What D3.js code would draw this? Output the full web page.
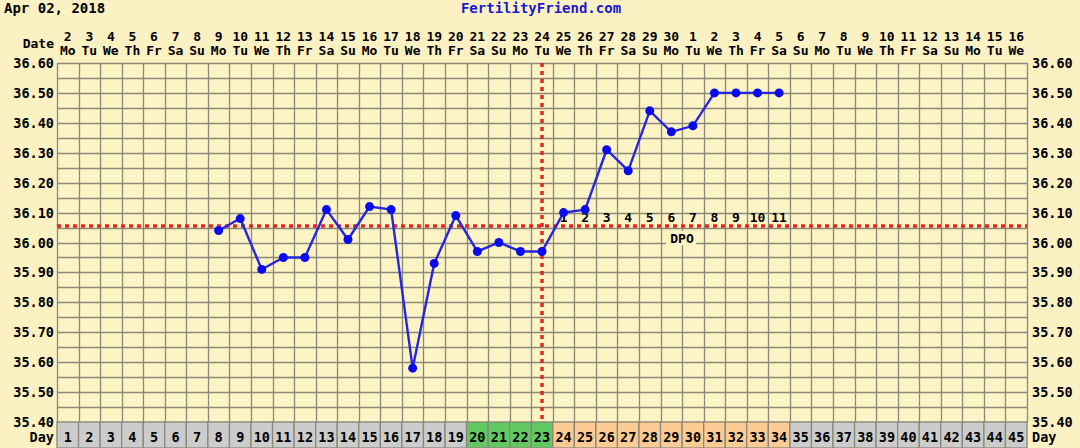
<!DOCTYPE html>
<html>
<head>
<meta charset="utf-8">
<script src="https://cdn.jsdelivr.net/npm/d3@7"></script>
<style>
  body { margin: 0; background: #fbf1c3; }
  text { font-family: "DejaVu Sans Mono", monospace; font-weight: bold; fill: #000; }
</style>
</head>
<body>
<div id="chart"></div>
<script>
// chart data
const dates = [2,3,4,5,6,7,8,9,10,11,12,13,14,15,16,17,18,19,20,21,22,23,24,25,26,27,28,29,30,
               1,2,3,4,5,6,7,8,9,10,11,12,13,14,15,16];
const weekdays = ["Mo","Tu","We","Th","Fr","Sa","Su"];
const cycleDays = d3.range(1, 46);
const tempDays = [8,9,10,11,12,13,14,15,16,17,18,19,20,21,22,23,24,25,26,27,28,29,30,31,32,33,34];
const temps = [36.04,36.08,35.91,35.95,35.95,36.11,36.01,36.12,36.11,35.58,35.93,36.09,35.97,36.00,35.97,35.97,
               36.10,36.11,36.31,36.24,36.44,36.37,36.39,36.50,36.50,36.50,36.50];
const yTicks = [36.60,36.50,36.40,36.30,36.20,36.10,36.00,35.90,35.80,35.70,35.60,35.50,35.40];
const fertileDays = [20,21,22,23];
const lutealDays = [24,25,26,27,28,29,30,31,32,33,34];
const coverline = 36.055;
const ovulationDay = 23;

const W = 1080, H = 448;
const margin = { left: 57, right: 1027, top: 63, bottom: 422 };

const svg = d3.select("#chart").append("svg")
    .attr("width", W)
    .attr("height", H);

svg.append("rect").attr("width", W).attr("height", H).attr("fill", "#fbf1c3");

const x = d3.scaleBand().domain(cycleDays).range([margin.left, margin.right]);
const y = d3.scaleLinear().domain([35.40, 36.60]).range([margin.bottom, margin.top]);
const cx = d => x(d) + x.bandwidth() / 2;

// header
svg.append("text").attr("x", 4).attr("y", 13).style("font-size", "14px").text("Apr 02, 2018");
svg.append("text").attr("x", 541).attr("y", 13).attr("text-anchor", "middle")
    .style("font-size", "14px").style("fill", "#1a1acc").text("FertilityFriend.com");

svg.append("text").attr("x", 54).attr("y", 48).attr("text-anchor", "end")
    .style("font-size", "13px").text("Date");

const cols = svg.append("g");
cols.selectAll(".dnum").data(cycleDays).enter().append("text")
    .attr("x", cx)
    .attr("y", 41)
    .attr("text-anchor", "middle")
    .style("font-size", "13px")
    .text((d, i) => dates[i]);
cols.selectAll(".wday").data(cycleDays).enter().append("text")
    .attr("x", cx)
    .attr("y", 55)
    .attr("text-anchor", "middle")
    .style("font-size", "13px")
    .text((d, i) => weekdays[i % 7]);

// grid
svg.append("rect").attr("x", margin.left).attr("y", margin.top)
    .attr("width", margin.right - margin.left).attr("height", margin.bottom - margin.top)
    .attr("fill", "#fdf4c6");

const hLines = d3.range(0, 25).map(i => 35.40 + i * 0.05);
svg.append("g").selectAll("line").data(hLines).enter().append("line")
    .attr("x1", margin.left).attr("x2", margin.right)
    .attr("y1", d => Math.round(y(d)) + 0.5).attr("y2", d => Math.round(y(d)) + 0.5)
    .attr("stroke", "#8a8878").attr("stroke-width", 1.3);
svg.append("g").selectAll("line").data(cycleDays.concat([46])).enter().append("line")
    .attr("x1", d => Math.round(d === 46 ? margin.right : x(d)) + 0.5)
    .attr("x2", d => Math.round(d === 46 ? margin.right : x(d)) + 0.5)
    .attr("y1", margin.top).attr("y2", margin.bottom)
    .attr("stroke", "#8a8878").attr("stroke-width", 1.3);

// y labels both sides
svg.append("g").selectAll("text").data(yTicks).enter().append("text")
    .attr("x", 54).attr("y", d => y(d) + 5)
    .attr("text-anchor", "end").style("font-size", "13.5px")
    .text(d => d.toFixed(2));
svg.append("g").selectAll("text").data(yTicks).enter().append("text")
    .attr("x", 1032).attr("y", d => y(d) + 5)
    .style("font-size", "13.5px")
    .text(d => d.toFixed(2));

// day row
const dayColor = d => fertileDays.includes(d) ? "#62c862" : lutealDays.includes(d) ? "#fccb94" : "#cccccc";
svg.append("g").selectAll("rect").data(cycleDays).enter().append("rect")
    .attr("x", d => x(d)).attr("y", margin.bottom)
    .attr("width", x.bandwidth()).attr("height", 26)
    .attr("fill", dayColor).attr("stroke", "#8a8878").attr("stroke-width", 1.3);
svg.append("g").selectAll("text").data(cycleDays).enter().append("text")
    .attr("x", cx).attr("y", 442)
    .attr("text-anchor", "middle").style("font-size", "13.5px")
    .text(d => d);
svg.append("text").attr("x", 54).attr("y", 442).attr("text-anchor", "end")
    .style("font-size", "13.5px").text("Day");
svg.append("text").attr("x", 1032).attr("y", 442)
    .style("font-size", "13.5px").text("Day");

// coverline and ovulation line
svg.append("line")
    .attr("x1", margin.left).attr("x2", margin.right)
    .attr("y1", y(coverline)).attr("y2", y(coverline))
    .attr("stroke", "#dd2a22").attr("stroke-width", 3.5).attr("stroke-dasharray", "4,4");
svg.append("line")
    .attr("x1", cx(ovulationDay)).attr("x2", cx(ovulationDay))
    .attr("y1", margin.top).attr("y2", margin.bottom - 3)
    .attr("stroke", "#dd2a22").attr("stroke-width", 3.5).attr("stroke-dasharray", "4,4");

// DPO labels
svg.append("g").selectAll("text").data(lutealDays).enter().append("text")
    .attr("x", cx).attr("y", 222)
    .attr("text-anchor", "middle").style("font-size", "13px")
    .text((d, i) => i + 1);
svg.append("rect").attr("x", 666).attr("y", 231).attr("width", 30).attr("height", 14).attr("fill", "#fdf4c6");
svg.append("text").attr("x", 682).attr("y", 243).attr("text-anchor", "middle")
    .style("font-size", "13px").text("DPO");

// temperature line
const pts = tempDays.map((d, i) => [cx(d), y(temps[i])]);
svg.append("path")
    .attr("d", d3.line()(pts))
    .attr("fill", "none").attr("stroke", "#2626e0").attr("stroke-width", 2.4);
svg.append("g").selectAll("circle").data(pts).enter().append("circle")
    .attr("cx", d => d[0]).attr("cy", d => d[1]).attr("r", 4.5)
    .attr("fill", "#0a0af0");
</script>
</body>
</html>
